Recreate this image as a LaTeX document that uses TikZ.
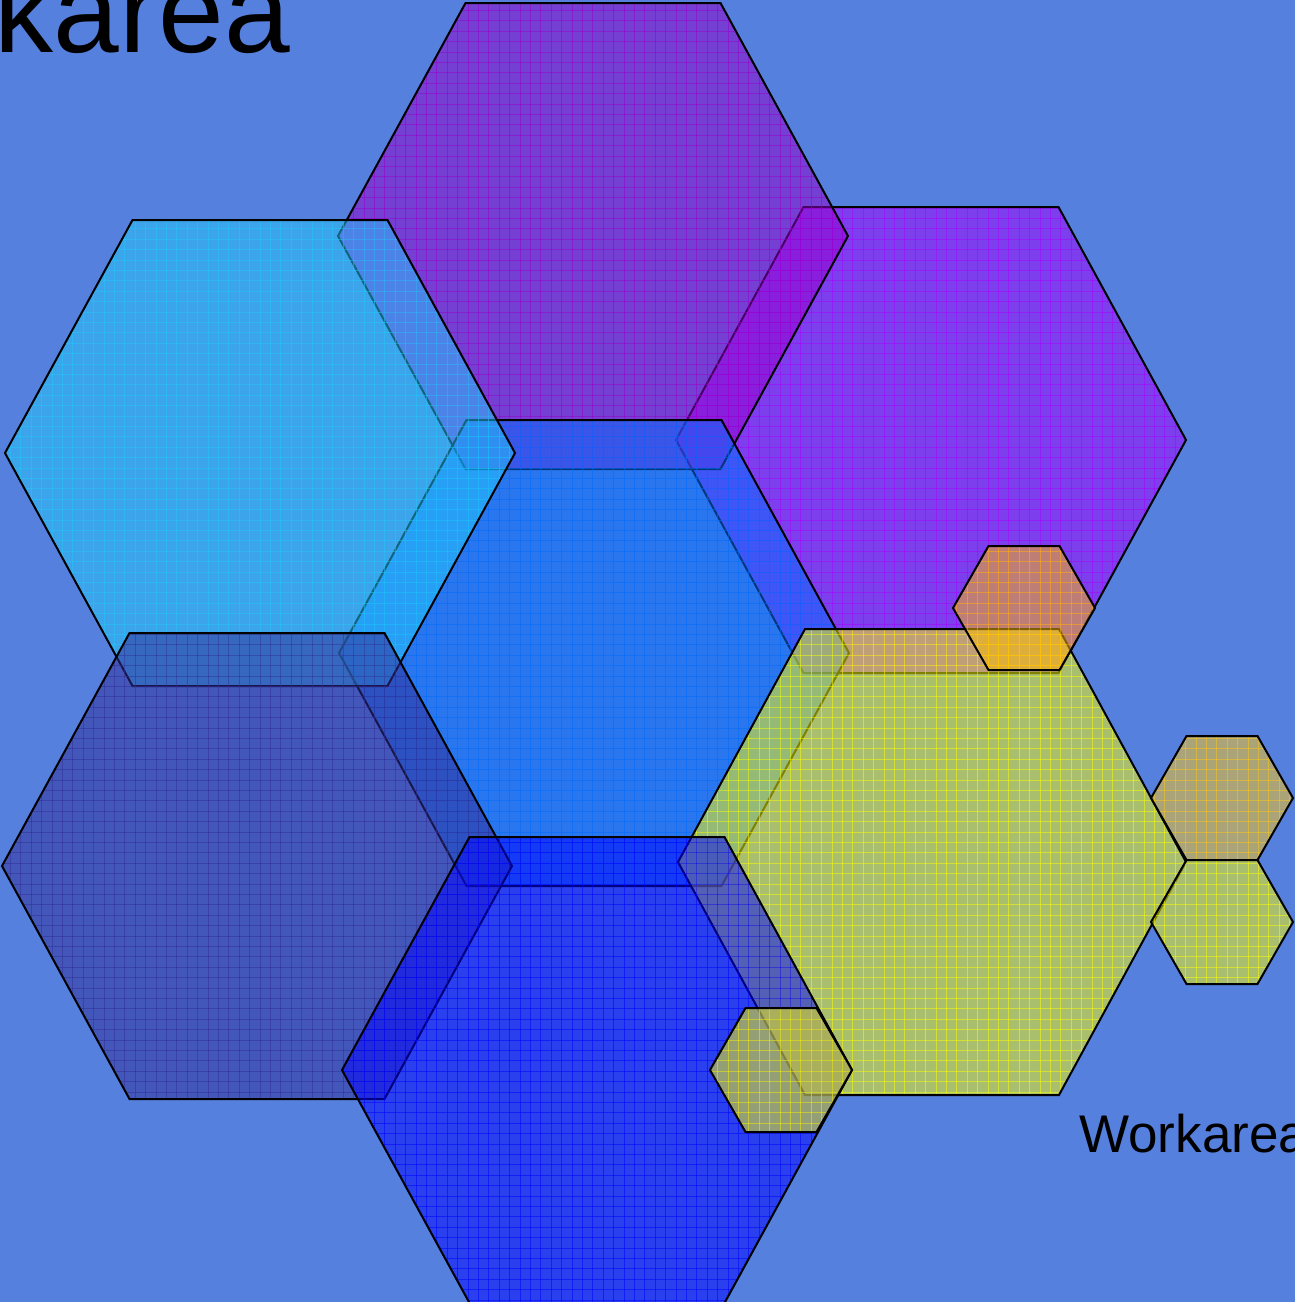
\documentclass[tikz,border=0pt]{standalone}
\usepackage{fontspec}
\setmainfont{Liberation Sans}
\definecolor{bgc}{RGB}{85,128,221}
\definecolor{cTopPurple}{RGB}{150,0,205}
\definecolor{cRightPurple}{RGB}{165,0,255}
\definecolor{cCyan}{RGB}{35,200,250}
\definecolor{cMidBlue}{RGB}{0,110,255}
\definecolor{cDarkBlue}{RGB}{50,45,150}
\definecolor{cYellow}{RGB}{255,255,0}
\definecolor{cBlue}{RGB}{0,0,255}
\definecolor{cOrange}{RGB}{255,190,0}
\definecolor{cGold}{RGB}{255,200,20}
\newcommand{\hexpath}[4]{({#1-#3},{#2}) -- ({#1-#3/2},{#2-#4}) -- ({#1+#3/2},{#2-#4}) -- ({#1+#3},{#2}) -- ({#1+#3/2},{#2+#4}) -- ({#1-#3/2},{#2+#4}) -- cycle}
% name, cx, cy, half-width, half-height, colour
\newcommand{\drawhex}[6]{%
  \coordinate (#1) at (#2,#3);
  \fill[hexfill, #6] \hexpath{#2}{#3}{#4}{#5};
  \begin{scope}
    \clip \hexpath{#2}{#3}{#4}{#5};
    \pgfmathtruncatemacro\ia{floor((#2-#4)/10.4)}
    \pgfmathtruncatemacro\ib{ceil((#2+#4)/10.4)}
    \pgfmathtruncatemacro\ja{floor((#3-#5)/10.4)}
    \pgfmathtruncatemacro\jb{ceil((#3+#5)/10.4)}
    \foreach \i in {\ia,...,\ib} \draw[gridline, #6] ({\i*10.4},{#3-#5}) -- ({\i*10.4},{#3+#5});
    \foreach \j in {\ja,...,\jb} \draw[gridline, #6] ({#2-#4},{\j*10.4}) -- ({#2+#4},{\j*10.4});
  \end{scope}
  \draw[hexline] \hexpath{#2}{#3}{#4}{#5};
}
\begin{document}
\begin{tikzpicture}[x=0.5pt,y=-0.5pt,
  hexfill/.style={fill opacity=0.5},
  gridline/.style={opacity=0.5, line width=0.45pt},
  hexline/.style={draw=black, line width=1pt, line join=miter},
  bigtext/.style={anchor=base west, inner sep=0pt, font=\fontsize{59}{60}\selectfont},
  smalltext/.style={anchor=base west, inner sep=0pt, font=\fontsize{26.5}{28}\selectfont}]
\fill[bgc] (0,0) rectangle (1295,1302);
\useasboundingbox (0,0) rectangle (1295,1302);
\node[bigtext] (title) at (-220,52) {Workarea};
\drawhex{rightpurple}{931}{440}{255}{233}{cRightPurple}
\drawhex{toppurple}{593}{236}{255}{233}{cTopPurple}
\drawhex{midblue}{594}{653}{255}{233}{cMidBlue}
\drawhex{cyan}{260}{453}{255}{233}{cCyan}
\drawhex{darkblue}{257}{866}{255}{233}{cDarkBlue}
\drawhex{yellow}{932}{862}{254}{233}{cYellow}
\drawhex{bottomblue}{597}{1070}{255}{233}{cBlue}
\drawhex{orangesmall}{1024}{608}{71}{62}{cOrange}
\drawhex{rightsmalltop}{1222}{798}{71}{62}{cGold}
\drawhex{rightsmallbottom}{1222}{922}{71}{62}{cYellow}
\drawhex{bottomsmall}{781}{1070}{71}{62}{cYellow}
\node[smalltext] (label) at (1079,1152) {Workarea};
\end{tikzpicture}
\end{document}
